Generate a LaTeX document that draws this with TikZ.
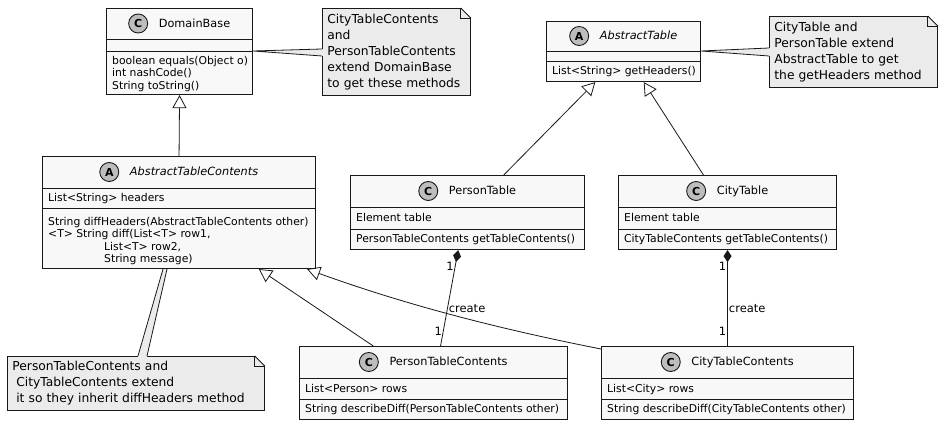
\documentclass[tikz,border=0pt]{standalone}
\usepackage{fontspec}
\setmainfont{DejaVu Sans}
\usepackage{xcolor}
\usepackage{tikz}
\usetikzlibrary{arrows.meta, positioning, calc}

\definecolor{umlline}{HTML}{181818}
\definecolor{umlfill}{HTML}{F8F8F8}
\definecolor{notefill}{HTML}{EBEBEB}
\definecolor{spotfill}{HTML}{BDBDBD}

\begin{document}
\begin{tikzpicture}[
    x=1pt, y=-1pt,
    cls/.style={draw=umlline, fill=umlfill, line width=1.1pt, rectangle, anchor=north west, inner sep=0pt},
    sep/.style={draw=umlline, line width=0.9pt},
    cname/.style={font=\fontsize{11.3}{13}\selectfont, inner sep=0pt, anchor=base},
    aname/.style={font=\fontsize{11.3}{13}\selectfont\itshape, inner sep=0pt, anchor=base},
    spot/.style={circle, draw=umlline, fill=spotfill, line width=0.9pt, minimum size=19pt, inner sep=0pt, font=\fontsize{11}{11}\selectfont\bfseries},
    mem/.style={font=\fontsize{10.8}{12.5}\selectfont, inner sep=0pt, align=left},
    note/.style={draw=umlline, fill=notefill, line width=0.8pt, anchor=north west, inner sep=5pt, align=left, font=\fontsize{12.3}{16}\selectfont},
    lbl/.style={font=\fontsize{11.5}{13}\selectfont, inner sep=1pt},
    conn/.style={draw=umlline, line width=0.8pt},
    gen/.style={conn, -{Triangle[open, length=13pt, width=14pt]}},
    comp/.style={conn, {Diamond[length=12pt, width=8pt]}-}
  ]
  \useasboundingbox (0,0) rectangle (948,430);

  % DomainBase
  \node[cls, minimum width=146pt, minimum height=86pt] (db) at (106,8) {};
  \draw[sep] ($(db.north west)+(0,31)$) -- ($(db.north east)+(0,31)$);
  \draw[sep] ($(db.north west)+(0,43)$) -- ($(db.north east)+(0,43)$);
  \node[cname] (dbT) at ($(db.north)+(15,19.5)$) {DomainBase};
  \node[spot] (dbS) at ($(dbT.base west)+(-20.5,-4)$) {C};
  \node[mem, anchor=north west] (dbM) at ($(db.north west)+(6,48)$)
    {boolean equals(Object o)\\int nashCode()\\String toString()};

  % AbstractTable
  \node[cls, minimum width=154pt, minimum height=60pt] (at) at (546,21) {};
  \draw[sep] ($(at.north west)+(0,30)$) -- ($(at.north east)+(0,30)$);
  \draw[sep] ($(at.north west)+(0,40)$) -- ($(at.north east)+(0,40)$);
  \node[aname] (atT) at ($(at.north)+(15,19)$) {AbstractTable};
  \node[spot] (atS) at ($(atT.base west)+(-20.5,-4)$) {A};
  \node[mem, anchor=base west] (atM) at ($(at.north west)+(6,53.7)$) {List<String> getHeaders()};

  % AbstractTableContents
  \node[cls, minimum width=273pt, minimum height=112pt] (atc) at (42,156) {};
  \draw[sep] ($(atc.north west)+(0,32)$) -- ($(atc.north east)+(0,32)$);
  \draw[sep] ($(atc.north west)+(0,52)$) -- ($(atc.north east)+(0,52)$);
  \node[aname] (atcT) at ($(atc.north)+(15,20)$) {AbstractTableContents};
  \node[spot] (atcS) at ($(atcT.base west)+(-20.5,-4)$) {A};
  \node[mem, anchor=base west] (atcA) at ($(atc.north west)+(6,45.7)$) {List<String> headers};
  \node[mem, anchor=north west] (atcM) at ($(atc.north west)+(6,61)$)
    {String diffHeaders(AbstractTableContents other)\\
     <T> String diff(List<T> row1,\\
     \hspace*{56pt}List<T> row2,\\
     \hspace*{56pt}String message)};

  % PersonTable
  \node[cls, minimum width=234pt, minimum height=74pt] (pt) at (350,175) {};
  \draw[sep] ($(pt.north west)+(0,32)$) -- ($(pt.north east)+(0,32)$);
  \draw[sep] ($(pt.north west)+(0,54)$) -- ($(pt.north east)+(0,54)$);
  \node[cname] (ptT) at ($(pt.north)+(15,20)$) {PersonTable};
  \node[spot] (ptS) at ($(ptT.base west)+(-20.5,-4)$) {C};
  \node[mem, anchor=base west] (ptA) at ($(pt.north west)+(6,46.7)$) {Element table};
  \node[mem, anchor=base west] (ptM) at ($(pt.north west)+(6,67.7)$) {PersonTableContents getTableContents()};

  % CityTable
  \node[cls, minimum width=218pt, minimum height=74pt] (ct) at (618,175) {};
  \draw[sep] ($(ct.north west)+(0,32)$) -- ($(ct.north east)+(0,32)$);
  \draw[sep] ($(ct.north west)+(0,54)$) -- ($(ct.north east)+(0,54)$);
  \node[cname] (ctT) at ($(ct.north)+(15,20)$) {CityTable};
  \node[spot] (ctS) at ($(ctT.base west)+(-20.5,-4)$) {C};
  \node[mem, anchor=base west] (ctA) at ($(ct.north west)+(6,46.7)$) {Element table};
  \node[mem, anchor=base west] (ctM) at ($(ct.north west)+(6,67.7)$) {CityTableContents getTableContents()};

  % PersonTableContents
  \node[cls, minimum width=268pt, minimum height=73pt] (ptc) at (299,346) {};
  \draw[sep] ($(ptc.north west)+(0,32)$) -- ($(ptc.north east)+(0,32)$);
  \draw[sep] ($(ptc.north west)+(0,53)$) -- ($(ptc.north east)+(0,53)$);
  \node[cname] (ptcT) at ($(ptc.north)+(15,20)$) {PersonTableContents};
  \node[spot] (ptcS) at ($(ptcT.base west)+(-20.5,-4)$) {C};
  \node[mem, anchor=base west] (ptcA) at ($(ptc.north west)+(6,46.2)$) {List<Person> rows};
  \node[mem, anchor=base west] (ptcM) at ($(ptc.north west)+(6,66.7)$) {String describeDiff(PersonTableContents other)};

  % CityTableContents
  \node[cls, minimum width=252pt, minimum height=73pt] (ctc) at (601,346) {};
  \draw[sep] ($(ctc.north west)+(0,32)$) -- ($(ctc.north east)+(0,32)$);
  \draw[sep] ($(ctc.north west)+(0,53)$) -- ($(ctc.north east)+(0,53)$);
  \node[cname] (ctcT) at ($(ctc.north)+(15,20)$) {CityTableContents};
  \node[spot] (ctcS) at ($(ctcT.base west)+(-20.5,-4)$) {C};
  \node[mem, anchor=base west] (ctcA) at ($(ctc.north west)+(6,46.2)$) {List<City> rows};
  \node[mem, anchor=base west] (ctcM) at ($(ctc.north west)+(6,66.7)$) {String describeDiff(CityTableContents other)};

  % Notes
  \node[note, text width=138pt, minimum height=87pt] (n1) at (322,8)
    {CityTableContents\\and\\PersonTableContents\\extend DomainBase\\to get these methods};
  \node[note, text width=158pt, minimum height=71pt] (n2) at (769,16)
    {CityTable and\\PersonTable extend\\AbstractTable to get\\the getHeaders method};
  \node[note, text width=247pt, minimum height=54pt] (n3) at (7,356)
    {PersonTableContents and\\\hspace*{3.9pt}CityTableContents extend\\\hspace*{3.9pt}it so they inherit diffHeaders method};
  \foreach \n in {n1,n2,n3} {
    \fill[white] ($(\n.north east)+(-10.5,-1)$) -- ($(\n.north east)+(1,-1)$) -- ($(\n.north east)+(1,10.5)$) -- cycle;
    \draw[conn] ($(\n.north east)+(-10,0)$) -- ($(\n.north east)+(0,10)$);
    \draw[conn] ($(\n.north east)+(-10,0)$) -- ($(\n.north east)+(-10,10)$) -- ($(\n.north east)+(0,10)$);
  }

  % note links
  \fill[notefill] ($(db.north east)+(0,43)$) -- ($(n1.north west)+(1,41)$) -- ($(n1.north west)+(1,48)$) -- cycle;
  \draw[conn] ($(n1.north west)+(0,41)$) -- ($(db.north east)+(0,43)$) -- ($(n1.north west)+(0,48)$);
  \fill[notefill] ($(at.north east)+(0,30)$) -- ($(n2.north west)+(1,32)$) -- ($(n2.north west)+(1,40)$) -- cycle;
  \draw[conn] ($(n2.north west)+(0,32)$) -- ($(at.north east)+(0,30)$) -- ($(n2.north west)+(0,40)$);
  \fill[notefill] ($(atc.south west)+(121,0)$) -- ($(atc.south west)+(125,0)$) -- ($(n3.north west)+(140,1)$) -- ($(n3.north west)+(131,1)$) -- cycle;
  \draw[conn] ($(atc.south west)+(121,0)$) -- ($(n3.north west)+(131,0)$);
  \draw[conn] ($(atc.south west)+(125,0)$) -- ($(n3.north west)+(140,0)$);

  % Generalisations
  \draw[gen] (atc.north) -- (db.south);
  \draw[gen] ($(pt.north west)!0.654!(pt.north east)$) -- ($(at.south west)!0.318!(at.south east)$);
  \draw[gen] ($(ct.north west)!0.39!(ct.north east)$) -- ($(at.south west)!0.63!(at.south east)$);
  \draw[gen] ($(ptc.north west)!0.276!(ptc.north east)$) -- ($(atc.south west)!0.791!(atc.south east)$);
  \draw[gen] ($(ctc.north west)+(0,3)$) .. controls (520,333) and (420,310) .. ($(atc.south west)!0.967!(atc.south east)$);

  % Compositions
  \draw[comp] ($(pt.south west)!0.46!(pt.south east)$) --
    node[lbl, pos=.17, anchor=east] {1}
    node[lbl, pos=.61, anchor=west] {create}
    node[lbl, pos=.845, anchor=east] {1}
    ($(ptc.north west)!0.526!(ptc.north east)$);
  \draw[comp] (ct.south) --
    node[lbl, pos=.17, anchor=east] {1}
    node[lbl, pos=.61, anchor=west] {create}
    node[lbl, pos=.845, anchor=east] {1}
    (ctc.north -| ct.south);
\end{tikzpicture}
\end{document}
